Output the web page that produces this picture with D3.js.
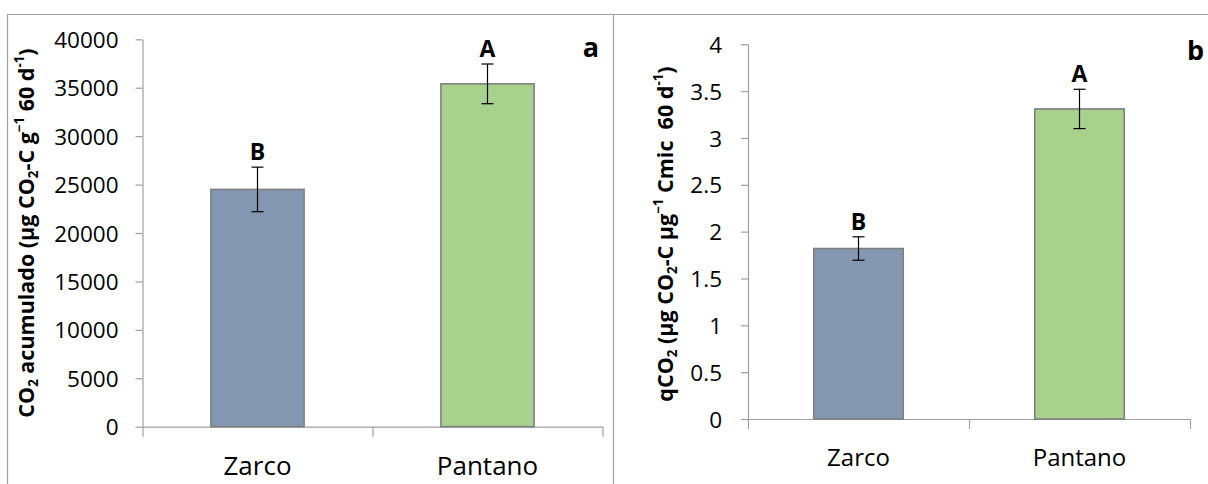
<!DOCTYPE html>
<html>
<head>
<meta charset="utf-8">
<script src="https://cdn.jsdelivr.net/npm/d3@7/dist/d3.min.js"></script>
<style>
  html, body { margin: 0; padding: 0; background: #fff; }
  svg { display: block; font-family: "Open Sans", "Noto Sans", sans-serif; }
</style>
</head>
<body>
<svg id="chart" width="1208" height="484"></svg>
<script>
// Sites compared in both panels
const categories = ["Zarco", "Pantano"];
const barColors = ["#8497B0", "#A9D18E"];

// Panel a: accumulated CO2 (µg CO2-C g-1 60 d-1)
const co2Values = [24500, 35400];
const co2Errors = [2300, 2050];
const co2Letters = ["B", "A"];
const co2Ticks = [0, 5000, 10000, 15000, 20000, 25000, 30000, 35000, 40000];

// Panel b: metabolic quotient qCO2 (µg CO2-C µg-1 Cmic 60 d-1)
const qco2Values = [1.82, 3.31];
const qco2Errors = [0.125, 0.21];
const qco2Letters = ["B", "A"];
const qco2Ticks = [0, 0.5, 1, 1.5, 2, 2.5, 3, 3.5, 4];

const svg = d3.select("#chart");
const axisColor = "#a0a0a0";

// Panel frames
svg.append("path")
  .attr("d", "M7.5,484 V14.5 H1208 M613.5,14.5 V484")
  .attr("fill", "none").attr("stroke", axisColor).attr("stroke-width", 1.2);

function drawPanel(cfg) {
  const g = svg.append("g");
  const y = d3.scaleLinear().domain([0, cfg.yMax]).range([cfg.yBase, cfg.yTop]);
  const x = d3.scaleBand().domain(categories).range([cfg.x0, cfg.x1])
    .paddingInner(0.595).paddingOuter(0.2975);
  const xb = d3.scaleLinear().domain([0, categories.length]).range([cfg.x0, cfg.x1]);

  // value axis
  const ya = g.append("g").attr("transform", `translate(${cfg.x0},0)`)
    .call(d3.axisLeft(y).tickValues(cfg.ticks).tickSize(7).tickSizeOuter(0)
      .tickPadding(cfg.tickPad).tickFormat(d3.format("")));
  ya.select(".domain").attr("stroke", axisColor).attr("stroke-width", 1.2);
  ya.selectAll(".tick line").attr("stroke", axisColor).attr("stroke-width", 1.2);
  ya.selectAll(".tick text").attr("font-size", cfg.tickFont).attr("fill", "#000")
    .attr("font-family", "Open Sans").attr("dy", "0.36em");

  // category axis with ticks between categories
  const xa = g.append("g").attr("transform", `translate(0,${cfg.yBase})`)
    .call(d3.axisBottom(xb).tickValues(d3.range(categories.length + 1))
      .tickSize(10).tickSizeOuter(0).tickFormat(""));
  xa.select(".domain").attr("stroke", axisColor).attr("stroke-width", 1.2);
  xa.selectAll(".tick line").attr("stroke", axisColor).attr("stroke-width", 1.2);

  g.selectAll("text.cat").data(categories).join("text").attr("class", "cat")
    .attr("x", d => x(d) + x.bandwidth() / 2)
    .attr("y", cfg.catY)
    .attr("text-anchor", "middle")
    .attr("font-size", cfg.catFont)
    .text(d => d);

  // bars
  g.selectAll("rect.bar").data(cfg.values).join("rect").attr("class", "bar")
    .attr("x", (d, i) => x(categories[i]))
    .attr("width", x.bandwidth())
    .attr("y", d => y(d))
    .attr("height", d => y(0) - y(d))
    .attr("fill", (d, i) => barColors[i])
    .attr("stroke", "#7f7f7f").attr("stroke-width", 1.6);

  // error bars
  const eb = g.selectAll("g.err").data(cfg.values).join("g").attr("class", "err")
    .attr("stroke", "#000").attr("stroke-width", 1.2);
  const cx = i => x(categories[i]) + x.bandwidth() / 2;
  eb.append("line").attr("x1", (d, i) => cx(i)).attr("x2", (d, i) => cx(i))
    .attr("y1", (d, i) => y(d - cfg.errors[i])).attr("y2", (d, i) => y(d + cfg.errors[i]));
  eb.append("line").attr("x1", (d, i) => cx(i) - 6).attr("x2", (d, i) => cx(i) + 6)
    .attr("y1", (d, i) => y(d + cfg.errors[i])).attr("y2", (d, i) => y(d + cfg.errors[i]));
  eb.append("line").attr("x1", (d, i) => cx(i) - 6).attr("x2", (d, i) => cx(i) + 6)
    .attr("y1", (d, i) => y(d - cfg.errors[i])).attr("y2", (d, i) => y(d - cfg.errors[i]));

  // significance letters
  g.selectAll("text.sig").data(cfg.values).join("text").attr("class", "sig")
    .attr("x", (d, i) => cx(i))
    .attr("y", (d, i) => y(d + cfg.errors[i]) - 7)
    .attr("text-anchor", "middle")
    .attr("font-size", 23).attr("font-weight", "bold")
    .text((d, i) => cfg.letters[i]);

  // panel letter
  g.append("text").attr("x", cfg.tagX).attr("y", cfg.tagY)
    .attr("text-anchor", cfg.tagAnchor)
    .attr("font-size", 27).attr("font-weight", "bold").text(cfg.tag);

  // rotated value-axis title
  const t = g.append("text")
    .attr("transform", `translate(${cfg.titleX},${cfg.titleY}) rotate(-90)`)
    .attr("text-anchor", "middle")
    .attr("font-size", cfg.titleFont).attr("font-weight", "bold");
  cfg.title.forEach(part => {
    const s = t.append("tspan").text(part.t);
    if (part.sub) s.attr("font-size", cfg.titleFont * 0.62).attr("dy", "0.3em");
    if (part.sup) s.attr("font-size", cfg.titleFont * 0.62).attr("dy", "-0.75em");
    if (part.reset) s.attr("dy", part.reset);
  });
}

drawPanel({
  x0: 142.5, x1: 602.5, yTop: 39.3, yBase: 426.7, yMax: 40000,
  ticks: co2Ticks, values: co2Values, errors: co2Errors, letters: co2Letters,
  tickPad: 17, tickFont: 22.5, catY: 475, catFont: 26,
  tag: "a", tagX: 599, tagY: 57, tagAnchor: "end",
  titleX: 34, titleY: 233, titleFont: 21.5,
  title: [
    { t: "CO" }, { t: "2", sub: true }, { t: " acumulado (µg CO", reset: "-0.186em" },
    { t: "2", sub: true }, { t: "-C g", reset: "-0.186em" }, { t: "−1", sup: true },
    { t: " 60 d", reset: "0.465em" }, { t: "-1", sup: true }, { t: ")", reset: "0.465em" }
  ]
});

drawPanel({
  x0: 748, x1: 1190, yTop: 44.3, yBase: 419, yMax: 4,
  ticks: qco2Ticks, values: qco2Values, errors: qco2Errors, letters: qco2Letters,
  tickPad: 19, tickFont: 22.5, catY: 466, catFont: 24,
  tag: "b", tagX: 1187, tagY: 60, tagAnchor: "start",
  titleX: 673, titleY: 234, titleFont: 21.5,
  title: [
    { t: "qCO" }, { t: "2", sub: true }, { t: " (µg CO", reset: "-0.186em" },
    { t: "2", sub: true }, { t: "-C µg", reset: "-0.186em" }, { t: "−1", sup: true },
    { t: " Cmic\u00a0 60 d", reset: "0.465em" }, { t: "-1", sup: true }, { t: ")", reset: "0.465em" }
  ]
});
</script>
</body>
</html>
